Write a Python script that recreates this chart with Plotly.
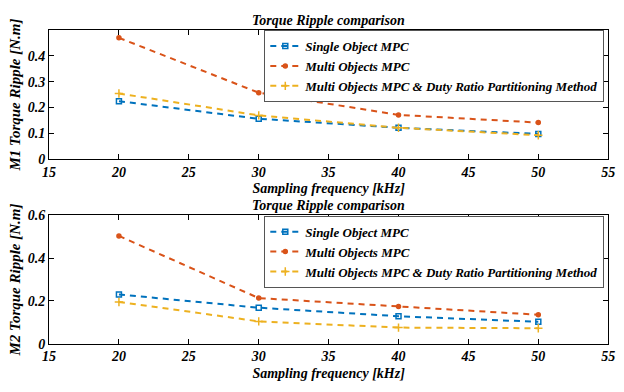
import plotly.graph_objects as go

freq = [20, 30, 40, 50]
# Top plot (M1)
m1_single = [0.224, 0.156, 0.121, 0.097]
m1_multi = [0.470, 0.257, 0.171, 0.141]
m1_duty = [0.254, 0.169, 0.121, 0.092]
# Bottom plot (M2)
m2_single = [0.230, 0.168, 0.128, 0.102]
m2_multi = [0.504, 0.213, 0.174, 0.135]
m2_duty = [0.195, 0.104, 0.075, 0.072]

names = ["Single Object MPC", "Multi Objects MPC",
         "Multi Objects MPC & Duty Ratio Partitioning Method"]
colors = ["#0072BD", "#D95319", "#EDB120"]
symbols = ["square-open", "circle", "cross-thin-open"]
sizes = [5, 4, 6]

FONT = "Liberation Serif, Times New Roman, serif"

fig = go.Figure()
for series, xa, ya, leg in [((m1_single, m1_multi, m1_duty), "x", "y", "legend"),
                            ((m2_single, m2_multi, m2_duty), "x2", "y2", "legend2")]:
    for vals, nm, c, s, sz in zip(series, names, colors, symbols, sizes):
        fig.add_trace(go.Scatter(
            x=freq, y=vals, name=nm, xaxis=xa, yaxis=ya, legend=leg,
            mode="lines+markers",
            line=dict(color=c, width=2, dash="6px,5px"),
            marker=dict(symbol=s, size=sz, color=c, line=dict(color=c, width=1.5)),
        ))


def f(size):
    return dict(family=FONT, size=size, color="black", weight="bold", style="italic")


xcommon = dict(range=[15, 55], tickvals=[15, 20, 25, 30, 35, 40, 45, 50, 55],
               showline=True, linecolor="black", linewidth=1, mirror="ticks",
               ticks="inside", ticklen=5, tickcolor="black", showgrid=False,
               zeroline=False, tickfont=f(14), domain=[43 / 624, 615 / 624])

fig.update_layout(
    width=624, height=392,
    margin=dict(l=0, r=0, t=0, b=0),
    paper_bgcolor="white", plot_bgcolor="white",
    xaxis=dict(**xcommon, anchor="y",
               title=dict(text="Sampling frequency [kHz]", font=f(14), standoff=4)),
    yaxis=dict(range=[0, 0.5], tickvals=[0, 0.1, 0.2, 0.3, 0.4], ticktext=["0", "0.1", "0.2", "0.3", "0.4"],
               showline=True, linecolor="black", linewidth=1, mirror="ticks",
               ticks="inside", ticklen=5, tickcolor="black", showgrid=False, zeroline=False,
               tickfont=f(14), domain=[(392 - 158) / 392, (392 - 24) / 392], anchor="x",
               title=dict(text="M1 Torque Ripple [N.m]", font=f(15), standoff=3)),
    xaxis2=dict(**xcommon, anchor="y2",
                title=dict(text="Sampling frequency [kHz]", font=f(14), standoff=4)),
    yaxis2=dict(range=[0, 0.6], tickvals=[0, 0.2, 0.4, 0.6], ticktext=["0", "0.2", "0.4", "0.6"],
                showline=True, linecolor="black", linewidth=1, mirror="ticks",
                ticks="inside", ticklen=5, tickcolor="black", showgrid=False, zeroline=False,
                tickfont=f(14), domain=[(392 - 350) / 392, (392 - 216.7) / 392], anchor="x2",
                title=dict(text="M2 Torque Ripple [N.m]", font=f(15), standoff=3)),
    legend=dict(x=611 / 624, y=(392 - 24) / 392, xanchor="right", yanchor="top",
                bgcolor="white", bordercolor="#555555", borderwidth=1,
                font=f(13), tracegroupgap=0, itemwidth=30),
    legend2=dict(x=611 / 624, y=(392 - 217) / 392, xanchor="right", yanchor="top",
                 bgcolor="white", bordercolor="#555555", borderwidth=1,
                 font=f(13), tracegroupgap=0, itemwidth=30),
    annotations=[
        dict(text="Torque Ripple comparison", x=329 / 624, y=(392 - 14) / 392,
             xref="paper", yref="paper", showarrow=False, xanchor="center", yanchor="middle",
             font=f(14)),
        dict(text="Torque Ripple comparison", x=329 / 624, y=(392 - 206) / 392,
             xref="paper", yref="paper", showarrow=False, xanchor="center", yanchor="middle",
             font=f(14)),
    ],
)

fig.write_html("out.html")
